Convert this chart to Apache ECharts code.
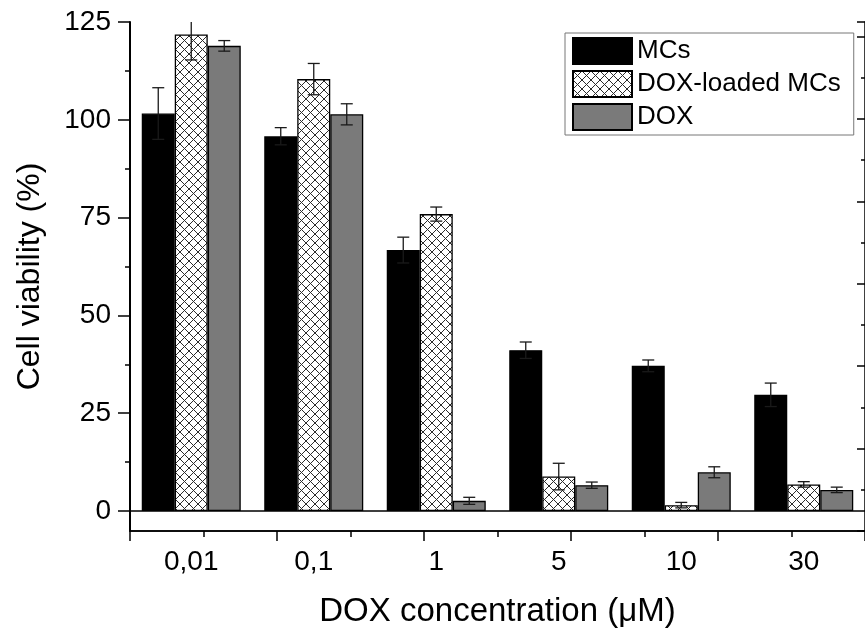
<!DOCTYPE html>
<html>
<head>
<meta charset="utf-8">
<script src="https://cdn.jsdelivr.net/npm/echarts@6/dist/echarts.min.js"></script>
<style>
    html, body { margin: 0; background: #fff; }
    #chart { width: 865px; height: 633px; }
</style>
</head>
<body>
<div id="chart"></div>
<script>
// concentrations (uM) and cell viability (%)
var categories = ['0,01', '0,1', '1', '5', '10', '30'];
var seriesNames = ['MCs', 'DOX-loaded MCs', 'DOX'];
var mcs = [101.6, 95.8, 66.7, 41.1, 37.1, 29.7];
var mcsErr = [6.6, 2.2, 3.3, 2.1, 1.5, 3.0];
var loaded = [121.8, 110.4, 75.9, 8.8, 1.5, 6.8];
var loadedErr = [6.5, 4.0, 1.8, 3.4, 0.7, 0.7];
var dox = [118.9, 101.4, 2.6, 6.6, 9.9, 5.4];
var doxErr = [1.35, 2.7, 0.9, 0.8, 1.4, 0.7];
var yMin = 0, yMax = 125, yStep = 25;

var FONT = 'Liberation Sans';
var BAR_W = 33;

// cross hatch fill for the loaded MCs
function makeHatch() {
    var n = 9;
    var c = document.createElement('canvas');
    c.width = n;
    c.height = n;
    var ctx = c.getContext('2d');
    ctx.fillStyle = '#fff';
    ctx.fillRect(0, 0, n, n);
    ctx.strokeStyle = '#2b2b2b';
    ctx.lineWidth = 1;
    ctx.beginPath();
    ctx.moveTo(-1, -1); ctx.lineTo(n + 1, n + 1);
    ctx.moveTo(n + 1, -1); ctx.lineTo(-1, n + 1);
    ctx.stroke();
    return c;
}

function barSeries(name, values, fill) {
    return {
        type: 'bar',
        name: name,
        xAxisIndex: 0,
        yAxisIndex: 0,
        data: values,
        barWidth: BAR_W,
        barGap: '0%',
        itemStyle: { color: fill, borderColor: '#000', borderWidth: 1.3 },
        z: 2
    };
}

function errSeries(name, values, errs, shift) {
    return {
        type: 'custom',
        name: name + ' err',
        xAxisIndex: 0,
        yAxisIndex: 0,
        clip: true,
        silent: true,
        z: 5,
        encode: { x: 0, y: 1 },
        data: values.map(function (v, i) { return [i, v, errs[i]]; }),
        renderItem: function (params, api) {
            var i = api.value(0), v = api.value(1), e = api.value(2);
            var hi = api.coord([i, v + e]);
            var lo = api.coord([i, v - e]);
            var x = hi[0] + shift * BAR_W;
            var st = { stroke: '#1a1a1a', lineWidth: 1.3 };
            return {
                type: 'group',
                children: [
                    { type: 'line', shape: { x1: x, y1: hi[1], x2: x, y2: lo[1] }, style: st },
                    { type: 'line', shape: { x1: x - 6, y1: hi[1], x2: x + 6, y2: hi[1] }, style: st },
                    { type: 'line', shape: { x1: x - 6, y1: lo[1], x2: x + 6, y2: lo[1] }, style: st }
                ]
            };
        }
    };
}

var hatch = { image: makeHatch(), repeat: 'repeat' };
var black = { color: '#000', width: 1.5 };

var chart = echarts.init(document.getElementById('chart'));
chart.setOption({
    animation: false,
    backgroundColor: '#fff',
    textStyle: { fontFamily: FONT },
    grid: [
        { left: 130, top: 22, width: 740, height: 489 },
        { left: 130, top: 22, width: 740, height: 509 }
    ],
    legend: {
        orient: 'vertical',
        left: 565,
        top: 33,
        data: seriesNames,
        icon: 'rect',
        itemWidth: 59,
        itemHeight: 26,
        itemGap: 5,
        padding: [4, 13, 4, 7],
        backgroundColor: '#fff',
        borderColor: '#777',
        borderWidth: 1,
        borderRadius: 0,
        textStyle: { fontFamily: FONT, fontSize: 26, color: '#000' }
    },
    xAxis: [
        {   // baseline at zero under the bars
            type: 'category', gridIndex: 0, data: categories,
            axisLine: { lineStyle: black },
            axisTick: { show: false }, axisLabel: { show: false }
        },
        {   // bottom axis, major ticks on categories
            type: 'category', gridIndex: 1, data: categories,
            position: 'bottom',
            axisLine: { onZero: false, lineStyle: black },
            axisTick: { alignWithLabel: true, length: 11, lineStyle: black },
            axisLabel: { fontFamily: FONT, fontSize: 28, color: '#000', margin: 17 },
            name: 'DOX concentration (\u03bcM)',
            nameLocation: 'middle',
            nameGap: 64,
            nameTextStyle: { fontFamily: FONT, fontSize: 33, color: '#000' }
        },
        {   // bottom axis, minor ticks between categories
            type: 'category', gridIndex: 1, data: categories,
            position: 'bottom',
            axisLine: { show: false, onZero: false },
            axisTick: { length: 6, lineStyle: black },
            axisLabel: { show: false }
        },
        {   // top frame
            type: 'value', gridIndex: 1, position: 'top',
            min: 0, max: 10, interval: 2,
            axisLine: { show: true, lineStyle: black },
            axisTick: { inside: true, length: 10, lineStyle: black },
            minorTick: { show: true, splitNumber: 2, length: 6, lineStyle: black },
            axisLabel: { show: false },
            splitLine: { show: false }
        }
    ],
    yAxis: [
        {
            type: 'value', gridIndex: 0,
            min: yMin, max: yMax, interval: yStep,
            axisLine: { show: false },
            axisTick: { show: true, length: 12, lineStyle: black },
            minorTick: { show: true, splitNumber: 2, length: 5, lineStyle: black },
            axisLabel: { fontFamily: FONT, fontSize: 28, color: '#000', margin: 19 },
            splitLine: { show: false }
        },
        {   // left frame line down to the bottom axis
            type: 'value', gridIndex: 1, position: 'left',
            min: 0, max: 1,
            axisLine: { show: true, lineStyle: { color: '#000', width: 2 } },
            axisTick: { show: false }, axisLabel: { show: false },
            splitLine: { show: false },
            name: 'Cell viability (%)',
            nameLocation: 'middle',
            nameGap: 84,
            nameTextStyle: { fontFamily: FONT, fontSize: 32, color: '#000' }
        },
        {   // right frame
            type: 'value', gridIndex: 1, position: 'right',
            min: 0, max: 12.35, interval: 2,
            axisLine: { show: true, lineStyle: black },
            axisTick: { inside: true, length: 8, lineStyle: black },
            minorTick: { show: true, splitNumber: 2, length: 4, lineStyle: black },
            axisLabel: { show: false },
            splitLine: { show: false }
        }
    ],
    series: [
        barSeries(seriesNames[0], mcs, '#000'),
        barSeries(seriesNames[1], loaded, hatch),
        barSeries(seriesNames[2], dox, '#7a7a7a'),
        errSeries(seriesNames[0], mcs, mcsErr, -1),
        errSeries(seriesNames[1], loaded, loadedErr, 0),
        errSeries(seriesNames[2], dox, doxErr, 1)
    ]
});
</script>
</body>
</html>
